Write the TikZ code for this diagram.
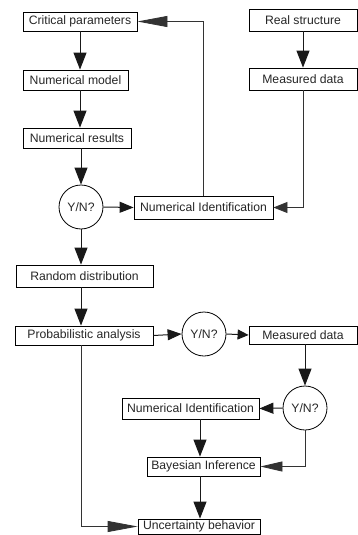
\documentclass[tikz,border=0pt]{standalone}
\usepackage{fontspec}
\setmainfont{Liberation Sans}
\usetikzlibrary{arrows.meta}
\begin{document}
\begin{tikzpicture}[x=1pt,y=-1pt,
  txt/.style={font=\fontsize{12.2}{14}\selectfont, text=black!85},
  box/.style={txt, draw, line width=0.8pt, rectangle, inner sep=0pt},
  dec/.style={txt, draw, circle, line width=0.8pt, minimum size=44pt, inner sep=0pt},
  conn/.style={line width=1pt, black!90},
  thin/.style={line width=0.8pt, black!80},
  vtip/.style={-{Triangle[length=17pt,width=13pt]}},
  htip/.style={-{Triangle[length=14pt,width=11pt]}},
  stip/.style={-{Triangle[length=11pt,width=10pt]}},
  longtip/.style={-{Triangle[length=30pt,width=11pt]}},
  midtip/.style={-{Triangle[length=22pt,width=10pt]}}
]
\useasboundingbox (0,0) rectangle (358,535);

\coordinate (colA) at (80,0);
\coordinate (colB) at (200,0);

\node[box, minimum width=114pt, minimum height=19pt] (crit) at (80,21.5) {Critical parameters};
\node[box, minimum width=105pt, minimum height=20pt] (model) at (75.5,80) {Numerical model};
\node[box, minimum width=108pt, minimum height=20pt] (results) at (77,138) {Numerical results};
\node[dec] (yn1) at (81,207) {Y/N?};
\node[box, minimum width=108pt, minimum height=22pt] (realS) at (303,20) {Real structure};
\node[box, minimum width=108pt, minimum height=22pt] (meas1) at (303,79) {Measured data};
\node[box, minimum width=139pt, minimum height=23pt] (numid1) at (203.5,207.5) {Numerical Identification};
\node[box, minimum width=137pt, minimum height=22pt] (rand) at (84.5,276) {Random distribution};
\node[box, minimum width=138pt, minimum height=19pt] (prob) at (84,335.5) {Probabilistic analysis};
\node[dec] (yn2) at (204,334) {Y/N?};
\node[box, minimum width=108pt, minimum height=18pt] (meas2) at (303,335) {Measured data};
\node[dec] (yn3) at (305,408) {Y/N?};
\node[box, minimum width=137pt, minimum height=21pt] (numid2) at (190.5,408.5) {Numerical Identification};
\node[box, minimum width=113pt, minimum height=19pt] (bayes) at (203.5,466.5) {Bayesian Inference};
\node[box, minimum width=122pt, minimum height=15pt] (unc) at (199,526.5) {Uncertainty behavior};

\draw[conn,vtip] (colA |- crit.south) -- (colA |- model.north);
\draw[conn,vtip] (colA |- model.south) -- (colA |- results.north);
\draw[conn,vtip] (yn1.north |- results.south) -- (yn1.north);
\draw[conn,vtip] (yn1.south) -- (yn1.south |- rand.north);
\draw[conn,htip] (yn1.east) -- (numid1.west);
\draw[thin,longtip] (numid1.north) |- (crit.east);
\draw[conn,vtip] (realS.south) -- (meas1.north);
\draw[thin,htip] (meas1.south) |- (numid1.east);
\draw[conn,vtip] (yn1.south |- rand.south) -- (yn1.south |- prob.north);
\draw[conn,htip] (prob.east) -- (yn2.west);
\draw[conn,stip] (yn2.east) -- (meas2.west);
\draw[conn,vtip] (yn3.north |- meas2.south) -- (yn3.north);
\draw[conn,htip] (yn3.west) -- (numid2.east);
\draw[thin,midtip] (yn3.south) |- (bayes.east);
\draw[conn,vtip] (colB |- numid2.south) -- (colB |- bayes.north);
\draw[conn,vtip] (colB |- bayes.south) -- (colB |- unc.north);
\draw[thin,longtip] (yn1.south |- prob.south) |- (unc.west);
\end{tikzpicture}
\end{document}
